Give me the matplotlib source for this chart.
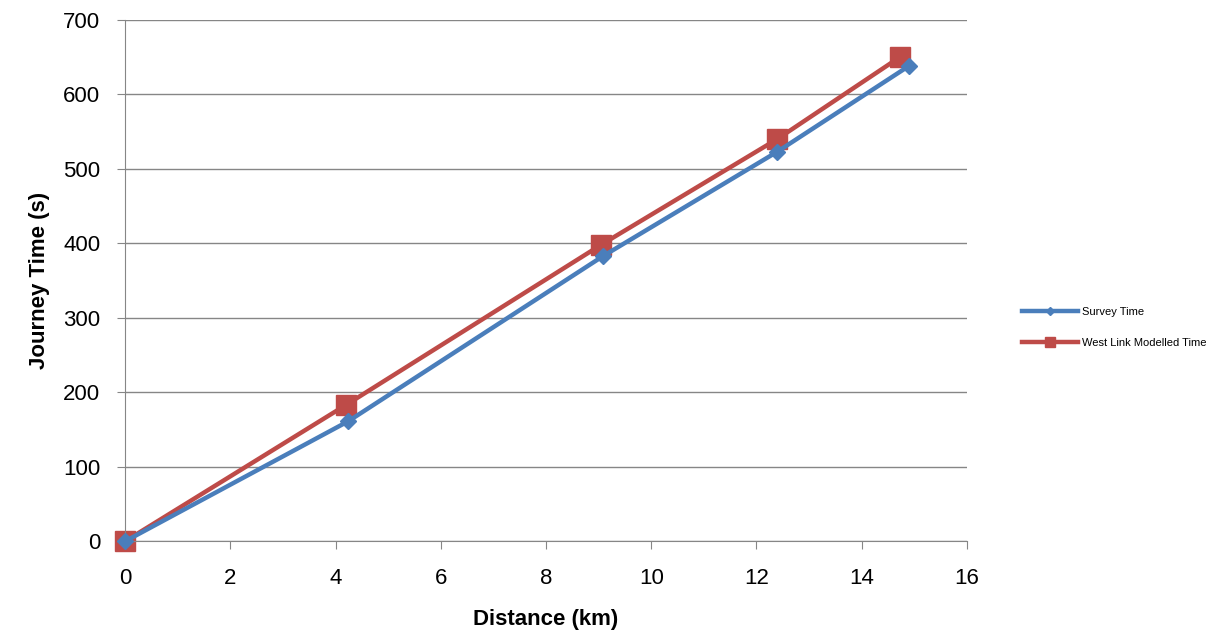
import matplotlib.pyplot as plt

plt.rcParams['font.family'] = ['Liberation Sans', 'DejaVu Sans']

# data
survey_km = [0, 4.24, 9.09, 12.4, 14.9]
survey_time = [0, 161, 383, 523, 638]
model_km = [0, 4.2, 9.05, 12.4, 14.73]
model_time = [0, 183, 398, 540, 650]

fig = plt.figure(figsize=(12.27, 6.36), dpi=100)
ax = fig.add_axes([0.102, 0.149, 0.686, 0.82])

ax.plot(survey_km, survey_time, color='#4a7ebb', lw=3.2, marker='D', ms=8,
        label='Survey Time', zorder=3, clip_on=False)
ax.plot(model_km, model_time, color='#be4b48', lw=3.2, marker='s', ms=15,
        label='West Link Modelled Time', zorder=2, clip_on=False)

ax.set_xlim(0, 16)
ax.set_ylim(0, 700)
ax.set_xticks(range(0, 17, 2))
ax.set_yticks(range(0, 701, 100))
ax.grid(axis='y', color='#868686', lw=1)
ax.set_axisbelow(True)
for s in ['top', 'right']:
    ax.spines[s].set_visible(False)
for s in ['left', 'bottom']:
    ax.spines[s].set_color('#868686')
ax.tick_params(axis='both', labelsize=16, color='#868686', direction='out', length=6)
ax.tick_params(axis='x', pad=13)
ax.tick_params(axis='y', pad=12)
ax.set_xlabel('Distance (km)', fontsize=16, fontweight='bold', labelpad=15)
ax.set_ylabel('Journey Time (s)', fontsize=16, fontweight='bold', labelpad=9)

h, l = ax.get_legend_handles_labels()
leg = fig.legend(h, l, loc='center left', bbox_to_anchor=(0.825, 0.485), frameon=False,
                 fontsize=8, handlelength=5, labelspacing=1.9, markerscale=0.45,
                 handletextpad=0.4)

fig.savefig('out.png', dpi=100)
